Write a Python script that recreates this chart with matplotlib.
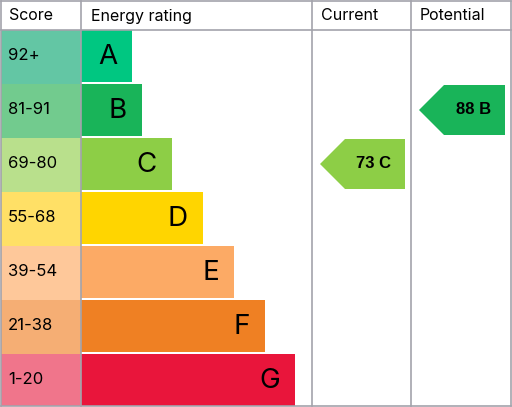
import matplotlib
matplotlib.use("Agg")
import matplotlib.pyplot as plt
from matplotlib.patches import Rectangle, Polygon

# EPC bands, top (best) to bottom
bands = ["A", "B", "C", "D", "E", "F", "G"]
scores = ["92+", "81-91", "69-80", "55-68", "39-54", "21-38", "1-20"]
bar_len = [51, 61, 91, 122, 153, 184, 214]
bar_col = ["#00c781", "#19b459", "#8dce46", "#ffd500", "#fcaa65", "#ef8023", "#e9153b"]
cell_col = ["#63c6a4", "#72cb8e", "#b9e08c", "#ffe066", "#fec89a", "#f5ae74", "#f0758b"]
headers = ["Score", "Energy rating", "Current", "Potential"]
current = (73, "C")
potential = (88, "B")

W, H = 512, 407
fig = plt.figure(figsize=(W / 100, H / 100), dpi=100)
ax = fig.add_axes([0, 0, 1, 1])
ax.set_xlim(0, W)
ax.set_ylim(H, 0)
ax.axis("off")

font = ["Inter", "DejaVu Sans"]
grid = "#a3a3ab"
top, bottom = 30, 406
row_h = 54
bar_h = 52
cols = [1, 81, 312, 411, 511]

# score cells and bars
for i, b in enumerate(bands):
    y0 = top + i * row_h
    ch = min(row_h, bottom - y0)
    ax.add_patch(Rectangle((cols[0], y0), cols[1] - cols[0], ch, color=cell_col[i], lw=0))
    ax.add_patch(Rectangle((cols[1], y0), bar_len[i], bar_h, color=bar_col[i], lw=0))
    ax.text(8, y0 + bar_h / 2, scores[i], ha="left", va="center", fontsize=12, family=font)
    ax.text(cols[1] + bar_len[i] - 15, y0 + bar_h / 2 + 1, b, ha="right", va="center",
            fontsize=20, family=font)

# grid lines
for x in cols:
    ax.plot([x, x], [1, bottom], color=grid, lw=1.2)
ax.plot([cols[0], cols[-1]], [1, 1], color=grid, lw=1.2)
ax.plot([cols[0], cols[-1]], [top, top], color=grid, lw=1.2)
ax.plot([cols[0], cols[-1]], [bottom, bottom], color=grid, lw=1.2)

hx = [9, 91, 321, 420]
for x, t in zip(hx, headers):
    ax.text(x, 16, t, ha="left", va="center", fontsize=11.5, family=font)


def arrow(col, val, band):
    i = bands.index(band)
    yc = top + i * row_h + bar_h / 2
    x0 = cols[col] + 8
    x1 = cols[col + 1] - 6
    h = 25
    pts = [(x0, yc), (x0 + 25, yc - h), (x1, yc - h), (x1, yc + h), (x0 + 25, yc + h)]
    ax.add_patch(Polygon(pts, closed=True, color=bar_col[i], lw=0))
    ax.text((x0 + 25 + x1) / 2 - 1, yc, f"{val} {band}", ha="center", va="center",
            fontsize=12, fontweight="bold", family=["Liberation Sans", "DejaVu Sans"])


arrow(2, *current)
arrow(3, *potential)

fig.savefig("out.png", dpi=100)
